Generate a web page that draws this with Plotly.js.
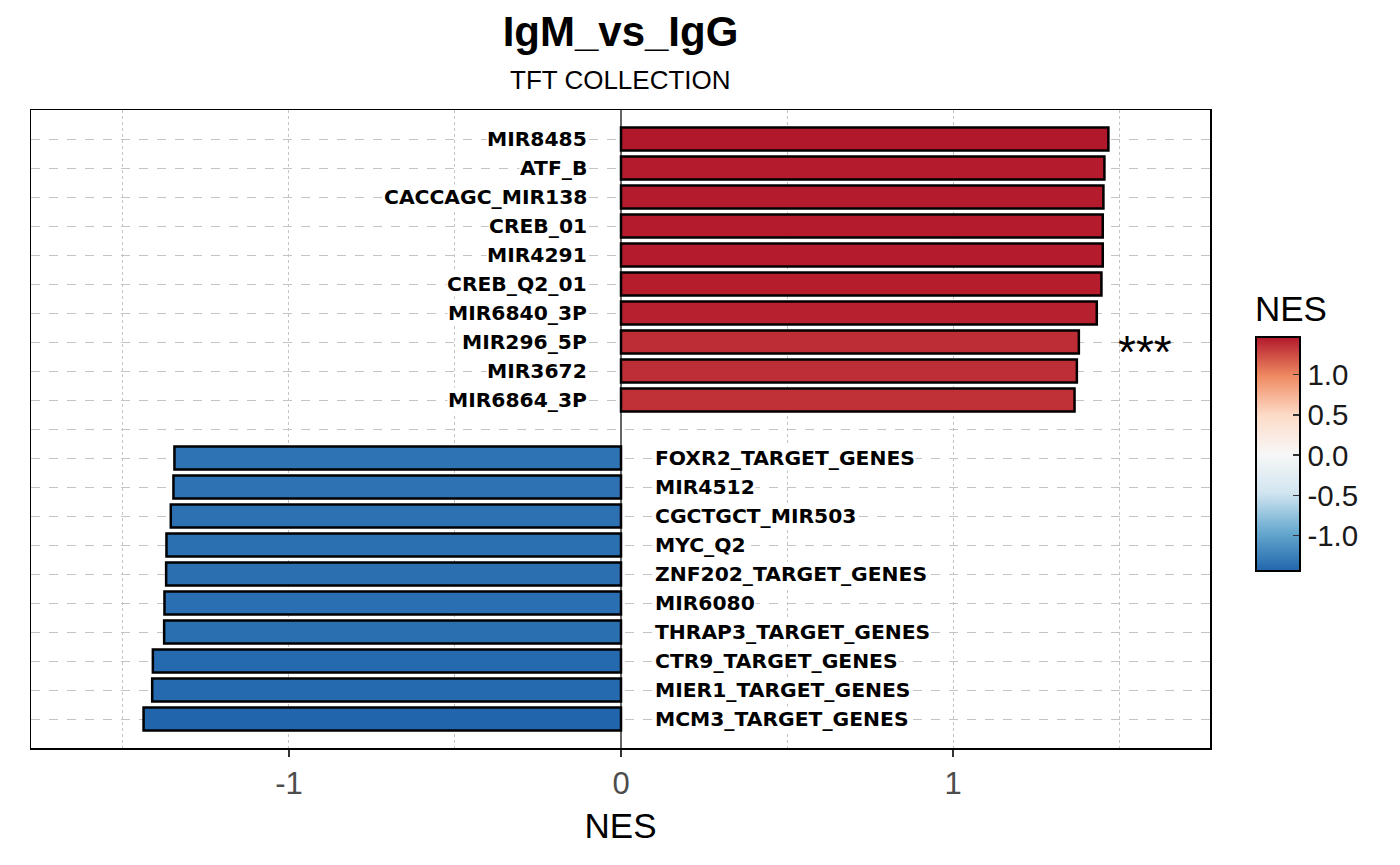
<!DOCTYPE html>
<html>
<head>
<meta charset="utf-8">
<script src="https://cdn.plot.ly/plotly-3.0.1.min.js"></script>
<style>html,body{margin:0;padding:0;background:#fff;}#chart{width:1400px;height:865px;}</style>
</head>
<body>
<div id="chart"></div>
<script>
// Data (top to bottom)
const upNames = ["MIR8485","ATF_B","CACCAGC_MIR138","CREB_01","MIR4291","CREB_Q2_01","MIR6840_3P","MIR296_5P","MIR3672","MIR6864_3P"];
const upNES   = [1.468, 1.456, 1.453, 1.451, 1.451, 1.447, 1.433, 1.379, 1.373, 1.366];
const upSig   = ["", "", "", "", "", "", "", "***", "", ""];
const downNames = ["FOXR2_TARGET_GENES","MIR4512","CGCTGCT_MIR503","MYC_Q2","ZNF202_TARGET_GENES","MIR6080","THRAP3_TARGET_GENES","CTR9_TARGET_GENES","MIER1_TARGET_GENES","MCM3_TARGET_GENES"];
const downNES   = [-1.345, -1.348, -1.356, -1.369, -1.370, -1.375, -1.376, -1.410, -1.412, -1.438];
const downSig   = ["", "", "", "", "", "", "", "", "", ""];
const xTicks = [-1, 0, 1];
const cbTicks = [-1.0, -0.5, 0.0, 0.5, 1.0];

// Row positions: up rows, one empty gap row, then down rows
const names = [], vals = [], pos = [], sig = [];
upNames.forEach((n, i) => { names.push(n); vals.push(upNES[i]); pos.push(i + 1); sig.push(upSig[i]); });
downNames.forEach((n, i) => { names.push(n); vals.push(downNES[i]); pos.push(upNames.length + 2 + i); sig.push(downSig[i]); });
const nRows = upNames.length + 1 + downNames.length;
const allRows = Array.from({length: nRows}, (_, i) => i + 1);

const cmin = Math.min(...vals), cmax = Math.max(...vals);
const rdbu = [
  [0, '#2166AC'], [1/6, '#67A9CF'], [2/6, '#D1E5F0'], [3/6, '#F7F7F7'],
  [4/6, '#FDDBC7'], [5/6, '#EF8A62'], [1, '#B2182B']
];

const trace = {
  type: 'bar', orientation: 'h',
  x: vals, y: pos, width: 0.8,
  hoverinfo: 'x+text', text: names, textposition: 'none',
  marker: {
    color: vals, colorscale: rdbu, cmin: cmin, cmax: cmax,
    line: {color: '#000', width: 2.5},
    showscale: true,
    colorbar: {
      title: {text: 'NES', side: 'top', font: {family: 'Liberation Sans', size: 35, color: '#000'}},
      thickness: 44, thicknessmode: 'pixels',
      len: 278, lenmode: 'pixels',
      x: 1.039, xanchor: 'left', xref: 'paper', xpad: 0,
      y: 0.2774, yanchor: 'bottom', ypad: 0,
      outlinecolor: '#000', outlinewidth: 2,
      tickvals: cbTicks, ticktext: cbTicks.map(v => v.toFixed(1)),
      ticks: 'inside', ticklen: 8, tickcolor: '#333', tickwidth: 1.5,
      ticklabelstandoff: 4,
      tickfont: {family: 'Liberation Sans', size: 29.5, color: '#1a1a1a'}
    }
  }
};

const annotations = [];
names.forEach((n, i) => {
  const up = vals[i] > 0;
  annotations.push({
    x: up ? -0.1 : 0.1, y: pos[i], xref: 'x', yref: 'y',
    text: n, showarrow: false,
    xanchor: up ? 'right' : 'left', yanchor: 'middle',
    bgcolor: '#fff', borderpad: 0,
    font: {family: 'DejaVu Sans', size: 20.3, weight: 'bold', color: '#000'}
  });
  if (sig[i]) {
    annotations.push({
      x: 1.578, y: pos[i], xref: 'x', yref: 'y',
      text: sig[i], showarrow: false, xanchor: 'center', yanchor: 'middle', yshift: -10,
      font: {family: 'Liberation Sans', size: 46, color: '#000'}
    });
  }
});
annotations.push({
  x: 0.5, xref: 'paper', y: (748 - 80) / 638, yref: 'paper', yanchor: 'middle',
  text: 'TFT COLLECTION', showarrow: false,
  font: {family: 'Liberation Sans', size: 26, color: '#000'}
});

const layout = {
  width: 1400, height: 865,
  paper_bgcolor: '#fff', plot_bgcolor: '#fff',
  margin: {l: 31, r: 190, t: 110, b: 117},
  showlegend: false,
  title: {
    text: '<b>IgM_vs_IgG</b>', x: 0.5, xref: 'paper', xanchor: 'center',
    y: 1 - 31/865, yref: 'container', yanchor: 'middle',
    font: {family: 'Liberation Sans', size: 42, color: '#000'}
  },
  xaxis: {
    range: [-1.777, 1.774], tickvals: xTicks, ticktext: xTicks.map(String),
    ticks: 'outside', ticklen: 7, tickwidth: 1.5, tickcolor: '#333',
    tickfont: {family: 'Liberation Sans', size: 31, color: '#4D4D4D'},
    showgrid: true, gridcolor: '#C4C4C4', gridwidth: 1, griddash: 'dot',
    minor: {dtick: 0.5, tick0: 0, showgrid: true, gridcolor: '#C4C4C4', gridwidth: 1, griddash: 'dot', ticks: ''},
    zeroline: true, zerolinecolor: '#666', zerolinewidth: 2.5,
    showline: true, linecolor: '#000', linewidth: 1.5, mirror: true,
    title: {text: 'NES', standoff: 14, font: {family: 'Liberation Sans', size: 35, color: '#000'}}
  },
  yaxis: {
    range: [nRows + 1, 0], tickvals: allRows, showticklabels: false, ticks: '',
    showgrid: true, gridcolor: '#C4C4C4', gridwidth: 1, griddash: 'dash',
    zeroline: false,
    showline: true, linecolor: '#000', linewidth: 1.5, mirror: true
  },
  annotations: annotations
};

Plotly.newPlot('chart', [trace], layout, {displayModeBar: false, staticPlot: true});
</script>
</body>
</html>
